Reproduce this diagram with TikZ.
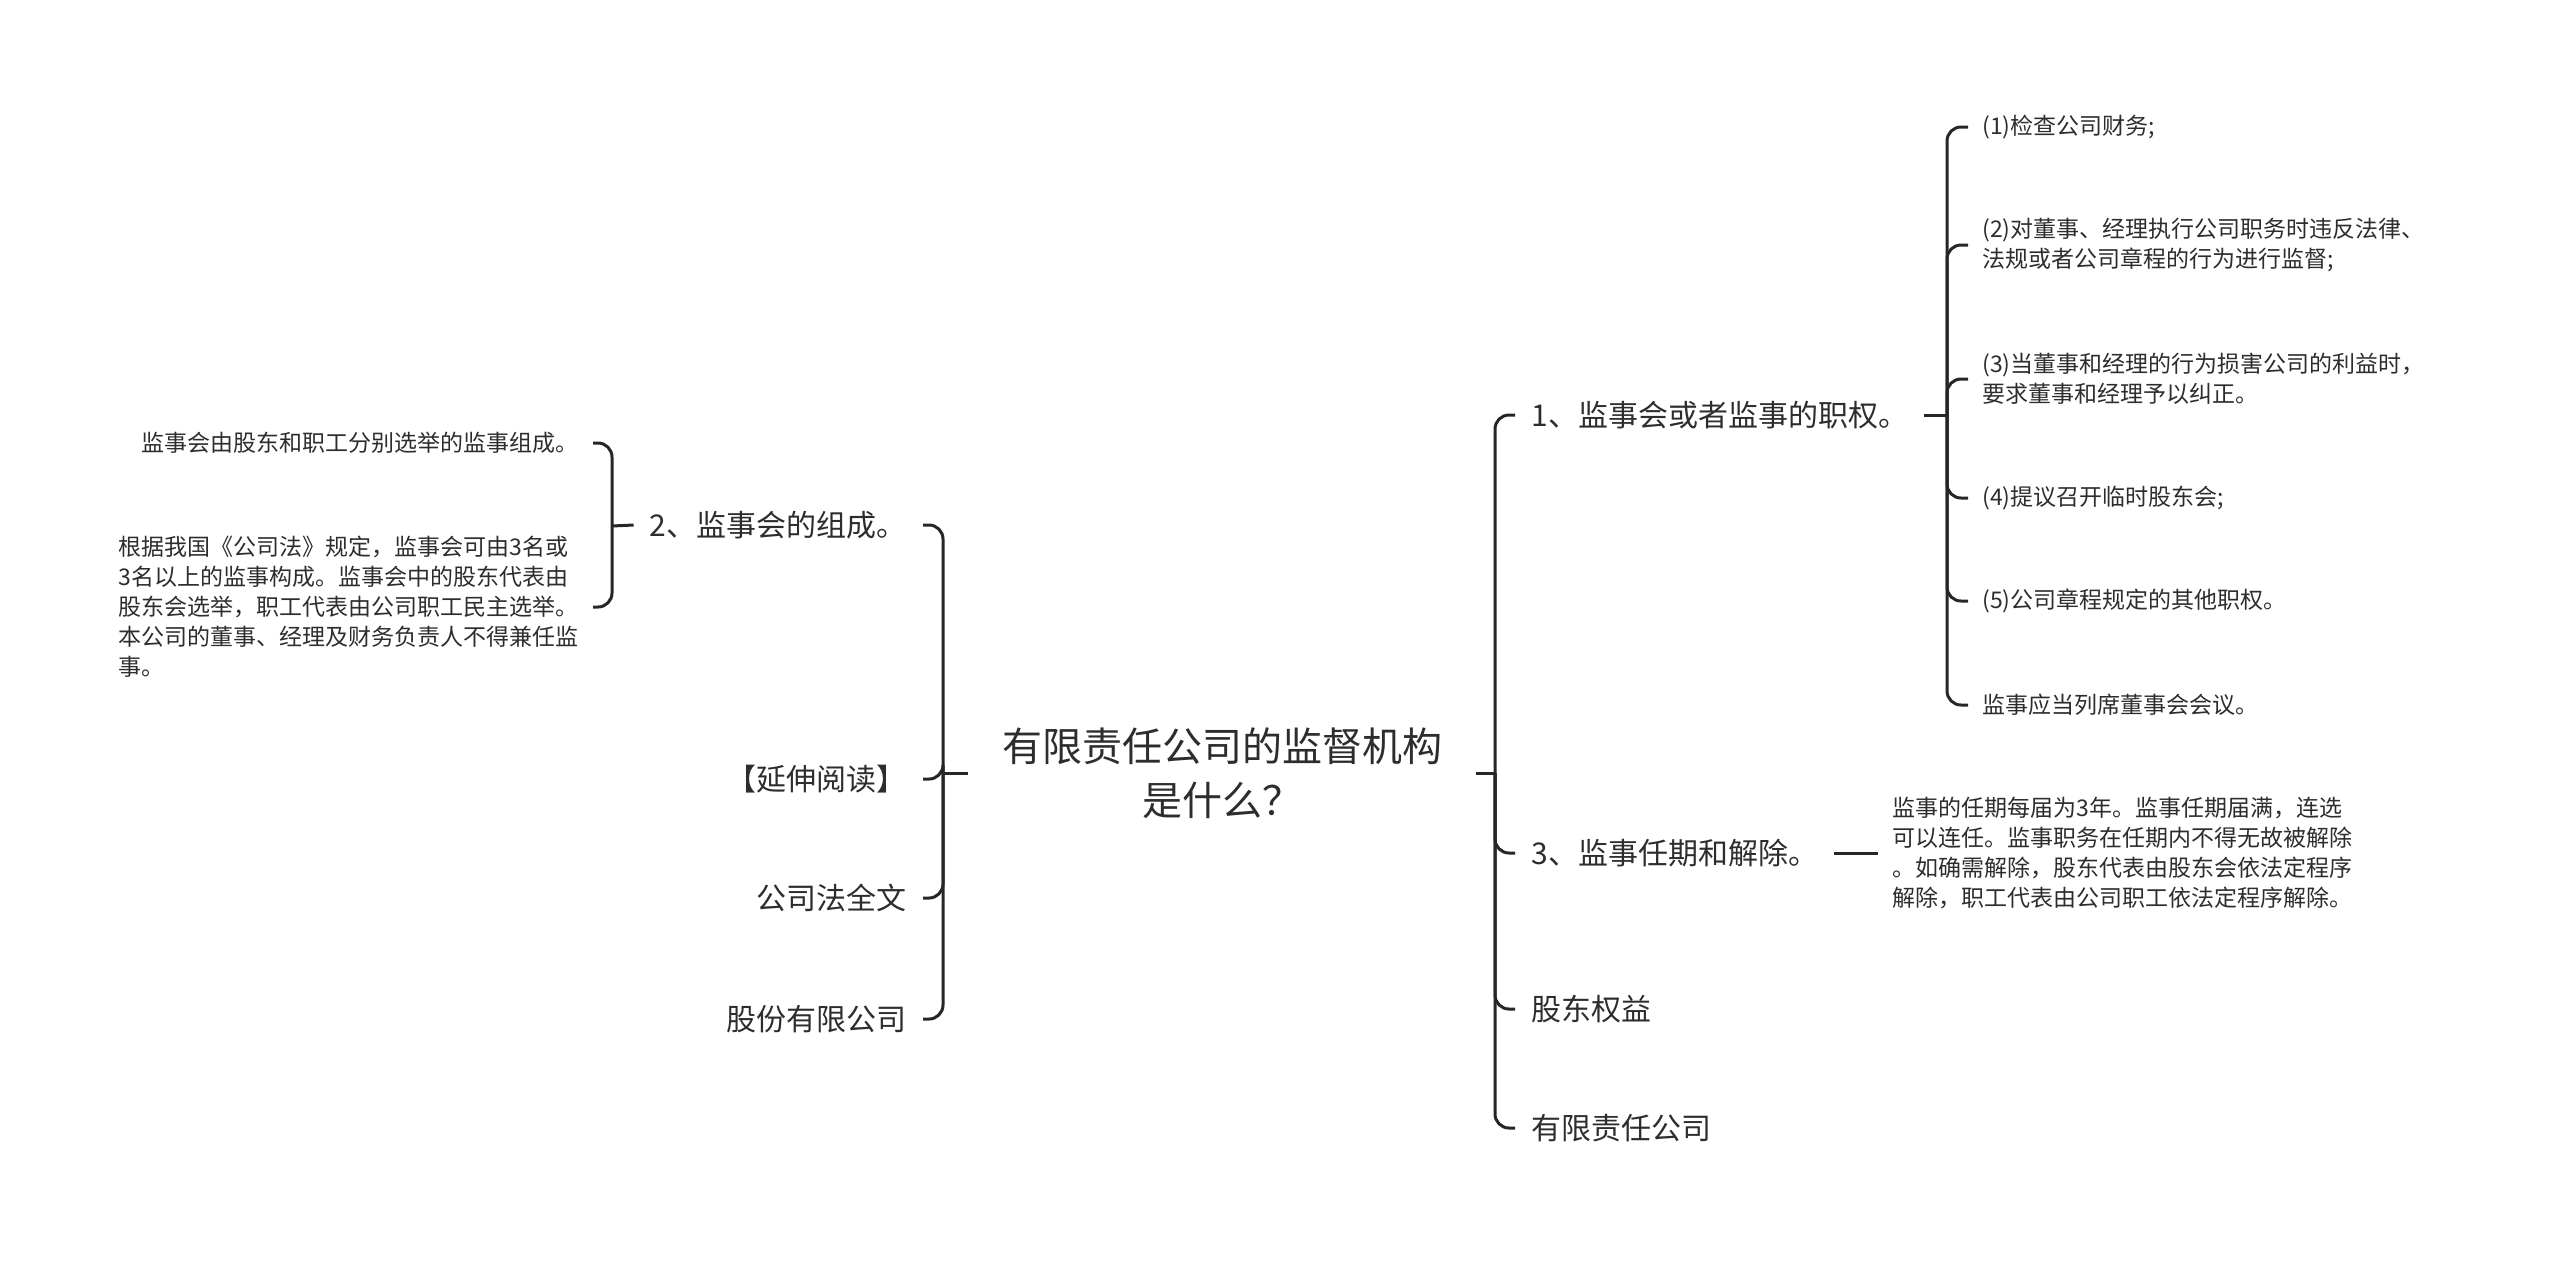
\documentclass[tikz,border=0pt]{standalone}
\usepackage{fontspec}
\setmainfont{Noto Sans CJK SC}
\usetikzlibrary{positioning}
\definecolor{inkcol}{RGB}{45,45,45}
\definecolor{linecol}{RGB}{38,38,38}

\begin{document}
\begin{tikzpicture}[x=0.5pt,y=-0.5pt,
  every node/.style={text=inkcol,inner ysep=2pt},
  root/.style={align=center,font=\fontsize{20}{27}\selectfont,inner xsep=17pt},
  topic/.style={font=\fontsize{15}{18}\selectfont,inner xsep=8pt},
  leaf/.style={align=left,font=\fontsize{11.5}{15}\selectfont,inner xsep=7pt},
  link/.style={draw=linecol,line width=1.5pt},
  bus/.style={link,rounded corners=7pt}]
\useasboundingbox (0,0) rectangle (2560,1266);

\node[root] (root) at (1222,773) {有限责任公司的监督机构\\是什么？};

% left branch
\node[topic,anchor=east] (c2) at (923,525) {2、监事会的组成。};
\node[topic,anchor=east] (ext) at (923,779) {【延伸阅读】};
\node[topic,anchor=east] (law) at (923,898) {公司法全文};
\node[topic,anchor=east] (joint) at (923,1019) {股份有限公司};

\node[leaf,anchor=east] (elect) at (593,443) {监事会由股东和职工分别选举的监事组成。};
\node[leaf,anchor=east] (basis) at (593,607) {根据我国《公司法》规定，监事会可由3名或\\3名以上的监事构成。监事会中的股东代表由\\股东会选举，职工代表由公司职工民主选举。\\本公司的董事、经理及财务负责人不得兼任监\\事。};

% right branch
\node[topic,anchor=west] (c1) at (1515,415) {1、监事会或者监事的职权。};
\node[topic,anchor=west] (c3) at (1515,853) {3、监事任期和解除。};
\node[topic,anchor=west] (rights) at (1515,1009) {股东权益};
\node[topic,anchor=west] (llc) at (1515,1128) {有限责任公司};

\node[leaf,anchor=west] (p1) at (1968,127) {(1)检查公司财务;};
\node[leaf,anchor=west] (p2) at (1968,245) {(2)对董事、经理执行公司职务时违反法律、\\法规或者公司章程的行为进行监督;};
\node[leaf,anchor=west] (p3) at (1968,379) {(3)当董事和经理的行为损害公司的利益时，\\要求董事和经理予以纠正。};
\node[leaf,anchor=west] (p4) at (1968,498) {(4)提议召开临时股东会;};
\node[leaf,anchor=west] (p5) at (1968,601) {(5)公司章程规定的其他职权。};
\node[leaf,anchor=west] (p6) at (1968,705) {监事应当列席董事会会议。};

\node[leaf,anchor=west] (term) at (1878,853) {监事的任期每届为3年。监事任期届满，连选\\可以连任。监事职务在任期内不得无故被解除\\。如确需解除，股东代表由股东会依法定程序\\解除，职工代表由公司职工依法定程序解除。};

% connectors
\coordinate (lb) at (943,773);
\coordinate (rb) at (1495,773);
\coordinate (lb2) at (612,526);
\coordinate (rb2) at (1947,415);
\draw[link] (root.west) -- (lb);
\draw[link] (root.east) -- (rb);
\foreach \n in {c2,ext,law,joint} \draw[bus] (lb) |- (\n.east);
\foreach \n in {c1,c3,rights,llc} \draw[bus] (rb) |- (\n.west);
\draw[link] (c2.west) -- (lb2);
\foreach \n in {elect,basis} \draw[bus] (lb2) |- (\n.east);
\draw[link] (c1.east) -- (rb2);
\foreach \n in {p1,p2,p3,p4,p5,p6} \draw[bus] (rb2) |- (\n.west);
\draw[link] (c3.east) -- (term.west);
\end{tikzpicture}
\end{document}
